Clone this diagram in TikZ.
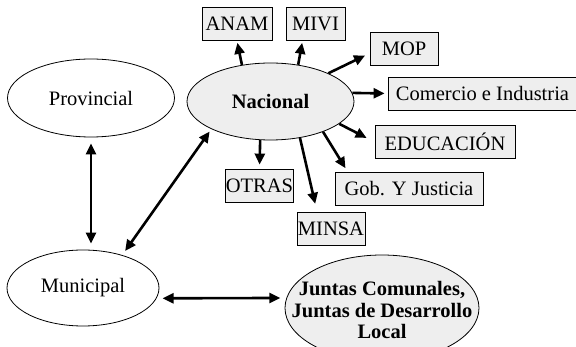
\documentclass[tikz,border=0pt]{standalone}
\usepackage{fontspec}
\setmainfont{Liberation Serif}
\usetikzlibrary{shapes.geometric,arrows.meta,calc}
\definecolor{boxfill}{HTML}{EEEEEE}
\begin{document}
\begin{tikzpicture}[x=1pt,y=-1pt,
  lbl/.style={font=\fontsize{20.5}{21.5}\selectfont},
  oval/.style={ellipse,draw,line width=0.8pt,inner sep=0pt,lbl},
  mbox/.style={rectangle,draw,line width=0.8pt,fill=boxfill,inner sep=0pt,minimum height=33pt,lbl},
  arr/.style={line width=2.6pt,-{Triangle[length=11pt,width=10pt]}},
  darr/.style={line width=2.6pt,{Triangle[length=11pt,width=10pt]}-{Triangle[length=11pt,width=10pt]}}]
\useasboundingbox (0,0) rectangle (576,347);
% ellipses
\node[oval, minimum width=167pt, minimum height=78pt] (prov) at (91,98) {Provincial};
\node[oval, fill=boxfill, minimum width=167pt, minimum height=77pt] (nac) at (270.5,101.5) {\textbf{Nacional}};
\node[oval, minimum width=152pt, minimum height=76pt] (mun) at (83,288) {Municipal};
\node[oval, fill=boxfill, minimum width=194pt, minimum height=106pt,
  label={[lbl, align=center, yshift=-2pt]center:\textbf{Juntas Comunales,}\\\textbf{Juntas de Desarrollo}\\\textbf{Local}}] (jun) at (382,308) {};
% boxes
\node[mbox, minimum width=70pt] (anam) at (237,24) {ANAM};
\node[mbox, minimum width=59pt] (mivi) at (315.5,24) {MIVI};
\node[mbox, minimum width=68pt] (mop) at (404,48.5) {MOP};
\node[mbox, minimum width=189pt] (com) at (482.5,93.5) {Comercio e Industria};
\node[mbox, minimum width=140pt] (edu) at (445,142) {EDUCACIÓN};
\node[mbox, minimum width=148pt] (gob) at (409,188.5) {Gob. Y Justicia};
\node[mbox, minimum width=67pt] (otras) at (259.5,185.5) {OTRAS};
\node[mbox, minimum width=68pt] (minsa) at (331,228.5) {MINSA};
% arrows from Nacional
\draw[arr, shorten >=2pt] (nac.128) -- (anam.south);
\draw[arr, shorten >=2pt] (nac.53) -- ($(mivi.south)+(-13,0)$);
\draw[arr, shorten >=5pt] (nac.26) -- (mop.188);
\draw[arr, shorten >=3pt] (nac.6) -- (com.west);
\draw[arr, shorten >=9pt] (nac.342) -- (edu.west);
\draw[arr, shorten >=4pt] (nac.330) -- ($(gob.north west)+(13,0)$);
\draw[arr, shorten >=8pt] (nac.309) -- ($(minsa.north)+(-14,0)$);
\draw[arr, shorten >=4pt] (nac.255) -- (otras.north);
% double arrows
\draw[darr, shorten <=6pt, shorten >=6pt] (prov.south) -- (prov.south |- mun.north);
\draw[darr, shorten <=5pt, shorten >=3pt] (mun.40) -- (nac.205);
\draw[darr, shorten <=6pt, shorten >=6pt] (mun.-8) -- (jun.174);
\end{tikzpicture}
\end{document}
